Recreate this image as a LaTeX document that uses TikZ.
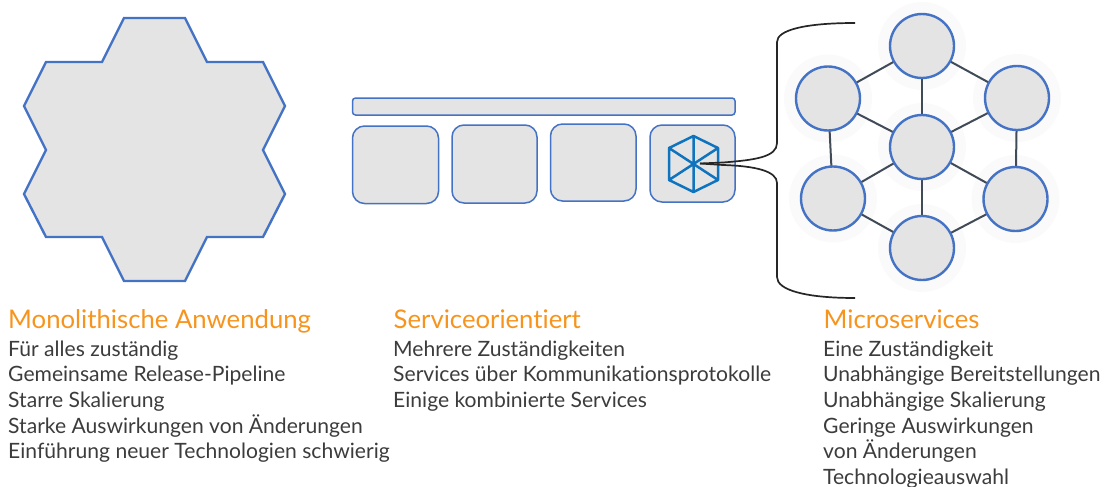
\documentclass[tikz,border=0pt]{standalone}
\usepackage{fontspec}
\setmainfont[Ligatures=NoCommon]{Lato}
\definecolor{frameblue}{HTML}{4472C4}
\definecolor{cubeblue}{HTML}{0F73BE}
\definecolor{partgray}{HTML}{E4E4E4}
\definecolor{halogray}{HTML}{FAFAFA}
\definecolor{linkgray}{HTML}{414B58}
\definecolor{headorange}{HTML}{F7941D}
\definecolor{bodygray}{HTML}{3C3C3C}
\tikzset{
  part/.style={draw=frameblue,fill=partgray,line width=1.5pt},
  micro/.style={circle,draw=frameblue,fill=partgray,line width=2.4pt,minimum size=64pt,inner sep=0pt},
  halo/.style={circle,fill=halogray,minimum size=88pt,inner sep=0pt},
  link/.style={draw=linkgray,line width=2pt},
  head/.style={anchor=base west,inner sep=0pt,text=headorange,font=\fontsize{25.7}{28}\selectfont},
  body/.style={anchor=north west,inner sep=0pt,text=bodygray,align=left,font=\fontsize{21.1}{25.6}\selectfont},
}
\begin{document}
\begin{tikzpicture}[x=1pt,y=-1pt]
  \useasboundingbox (0,0) rectangle (1106,487);

  \coordinate (U) at (693.5,136);
  \coordinate (V) at (718,148);
  \coordinate (W) at (718,180);
  \coordinate (X) at (693.5,192);
  \coordinate (Y) at (669,180);
  \coordinate (Z) at (669,148);

  % Monolith
  \draw[part,line width=2.4pt,miter limit=10]
  (124,18) -- (185,18) -- (207,62) -- (263,62) -- (285,106) -- (263,150) -- (285,194) -- (263,237) -- (207,237)
  -- (185,281) -- (124,281) -- (102,237) -- (46,237) -- (24,194) -- (46,150) -- (24,106) -- (46,62) -- (102,62) -- cycle;

  % Service row
  \draw[part,rounded corners=3pt] (352.5,98) rectangle (735,115);
  \draw[part,rounded corners=12pt] (352.5,126) rectangle (438.5,203.5);
  \draw[part,rounded corners=12pt] (452,125) rectangle (537,203);
  \draw[part,rounded corners=12pt] (550.5,124) rectangle (636,201);
  \draw[part,rounded corners=12pt] (650,125) rectangle (735,202);

  % Cube icon
  \draw[cubeblue,line width=2.5pt,line join=round]
  (U) -- (V) -- (W) -- (X) -- (Y) -- (Z) -- cycle
  (U) -- (X) (V) -- (Y) (W) -- (Z);

  % Microservices
  \foreach \name/\pos in {top/{922,46},upl/{828,98.5},upr/{1017,98},cen/{922,147},lol/{833,198.5},lor/{1015.5,199},bot/{922,248}} {
    \node[halo] (\name halo) at (\pos) {};
  }
  \foreach \from/\to in {top/upl,top/upr,top/cen,upl/cen,upr/cen,upl/lol,upr/lor,cen/lol,cen/lor,cen/bot,lol/bot,lor/bot} {
    \path[link] (\from halo.center) -- (\to halo.center);
  }
  \foreach \name/\pos in {top/{922,46},upl/{828,98.5},upr/{1017,98},cen/{922,147},lol/{833,198.5},lor/{1015.5,199},bot/{922,248}} {
    \node[micro] (\name) at (\pos) {};
  }

  % Bracket
  \coordinate (root) at (700,163.5);
  \draw[black!85,line width=1.7pt]
  (root) -- (723,162.5) .. controls (755,160) and (777,157) .. (777,143) -- (777,42) .. controls (777,30) and (805,23) .. (855,23);
  \draw[black!85,line width=1.7pt]
  (root) -- (723,165) .. controls (755,166) and (777,171) .. (777,183) -- (777,277) .. controls (777,290) and (805,298) .. (855,298);

  % Captions
  \node[head] (monohead) at (8,328) {Monolithische Anwendung};
  \node[body] (monobody) at (8,340.5) {Für alles zuständig\\Gemeinsame Release-Pipeline\\Starre Skalierung\\Starke Auswirkungen von Änderungen\\Einführung neuer Technologien schwierig};
  \node[head] (servhead) at (393.5,328) {Serviceorientiert};
  \node[body] (servbody) at (393,340.5) {Mehrere Zuständigkeiten\\Services über Kommunikationsprotokolle\\Einige kombinierte Services};
  \node[head] (microhead) at (823.5,328) {Microservices};
  \node[body] (microbody) at (823,340.5) {Eine Zuständigkeit\\Unabhängige Bereitstellungen\\Unabhängige Skalierung\\Geringe Auswirkungen\\von Änderungen\\Technologieauswahl};
\end{tikzpicture}
\end{document}
